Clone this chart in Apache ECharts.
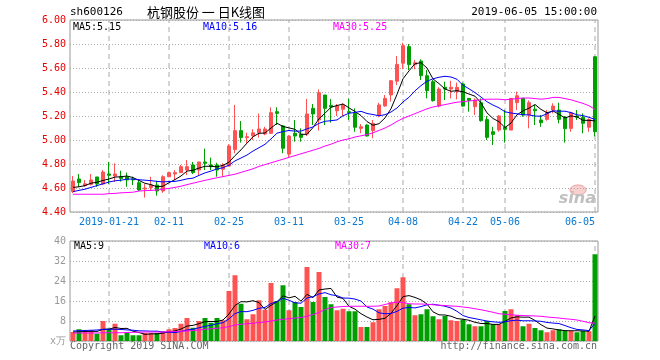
<!DOCTYPE html>
<html><head><meta charset="utf-8">
<script src="https://cdn.jsdelivr.net/npm/echarts@6/dist/echarts.min.js"></script>
<style>html,body{margin:0;padding:0;background:#fff}#c{width:660px;height:360px}</style>
</head><body><div id="c"></div>
<script>
const dates = [
'2019-01-11','2019-01-14','2019-01-15','2019-01-16','2019-01-17','2019-01-18',
'2019-01-21','2019-01-22','2019-01-23','2019-01-24','2019-01-25',
'2019-01-28','2019-01-29','2019-01-30','2019-01-31','2019-02-01',
'2019-02-11','2019-02-12','2019-02-13','2019-02-14','2019-02-15',
'2019-02-18','2019-02-19','2019-02-20','2019-02-21','2019-02-22',
'2019-02-25','2019-02-26','2019-02-27','2019-02-28','2019-03-01',
'2019-03-04','2019-03-05','2019-03-06','2019-03-07','2019-03-08',
'2019-03-11','2019-03-12','2019-03-13','2019-03-14','2019-03-15',
'2019-03-18','2019-03-19','2019-03-20','2019-03-21','2019-03-22',
'2019-03-25','2019-03-26','2019-03-27','2019-03-28','2019-03-29',
'2019-04-01','2019-04-02','2019-04-03','2019-04-04',
'2019-04-08','2019-04-09','2019-04-10','2019-04-11','2019-04-12',
'2019-04-15','2019-04-16','2019-04-17','2019-04-18','2019-04-19',
'2019-04-22','2019-04-23','2019-04-24','2019-04-25','2019-04-26',
'2019-04-29','2019-04-30',
'2019-05-06','2019-05-07','2019-05-08','2019-05-09','2019-05-10',
'2019-05-13','2019-05-14','2019-05-15','2019-05-16','2019-05-17',
'2019-05-29','2019-05-30','2019-05-31','2019-06-03','2019-06-04','2019-06-05'];
const tickDates = ['2019-01-21','2019-02-11','2019-02-25','2019-03-11','2019-03-25','2019-04-08','2019-04-22','2019-05-06','2019-06-05'];

const openP = [4.57,4.675,4.62,4.63,4.692,4.633,4.717,4.70,4.694,4.694,
 4.675,4.644,4.592,4.605,4.625,4.575,4.694,4.717,4.728,4.75,
 4.792,4.75,4.817,4.792,4.792,4.756,4.783,4.92,5.078,5.019,
 5.035,5.06,5.05,5.056,5.236,5.117,4.883,5.056,5.047,5.05,
 5.264,5.167,5.375,5.289,5.244,5.256,5.236,5.222,5.097,5.125,
 5.078,5.208,5.283,5.375,5.49,5.64,5.778,5.63,5.658,5.536,
 5.486,5.283,5.439,5.425,5.403,5.467,5.347,5.278,5.31,5.17,
 5.069,5.083,5.106,5.083,5.311,5.347,5.208,5.256,5.167,5.172,
 5.25,5.25,5.189,5.097,5.20,5.189,5.106,5.694];
const closeP = [4.658,4.645,4.635,4.667,4.633,4.733,4.706,4.717,4.68,4.667,
 4.667,4.583,4.60,4.625,4.575,4.694,4.728,4.728,4.778,4.778,
 4.728,4.817,4.806,4.778,4.75,4.792,4.95,5.078,5.02,5.028,
 5.06,5.092,5.092,5.228,5.222,4.931,5.033,5.033,5.022,5.217,
 5.217,5.394,5.264,5.275,5.283,5.292,5.228,5.106,5.11,5.033,
 5.139,5.292,5.347,5.494,5.63,5.786,5.628,5.644,5.536,5.411,
 5.328,5.425,5.425,5.439,5.439,5.283,5.33,5.333,5.161,5.022,
 5.047,5.20,5.089,5.347,5.369,5.208,5.311,5.244,5.144,5.228,
 5.283,5.172,5.094,5.228,5.189,5.139,5.172,5.069];
const lowP = [4.556,4.61,4.61,4.62,4.61,4.625,4.633,4.65,4.653,4.61,
 4.625,4.575,4.52,4.583,4.536,4.56,4.69,4.667,4.728,4.708,
 4.717,4.706,4.75,4.75,4.694,4.694,4.778,4.89,4.978,4.972,
 5.0,5.02,5.04,5.05,5.125,4.89,4.86,4.986,4.986,5.033,
 5.125,5.078,5.125,5.145,5.20,5.20,5.167,5.069,5.056,5.03,
 5.014,5.19,5.28,5.32,5.458,5.59,5.583,5.589,5.50,5.347,
 5.32,5.272,5.333,5.347,5.339,5.278,5.236,5.208,5.153,5.0,
 4.958,5.069,4.978,5.083,5.25,5.194,5.097,5.125,5.11,5.161,
 5.222,5.139,4.978,5.069,5.167,5.056,5.069,5.03];
const highP = [4.70,4.717,4.667,4.717,4.692,4.75,4.817,4.806,4.744,4.728,
 4.694,4.667,4.633,4.694,4.66,4.706,4.733,4.75,4.792,4.833,
 4.817,4.817,4.928,4.853,4.81,4.806,4.964,5.292,5.158,5.061,
 5.09,5.22,5.11,5.272,5.272,5.125,5.039,5.167,5.097,5.342,
 5.30,5.422,5.375,5.342,5.30,5.306,5.347,5.264,5.133,5.13,
 5.167,5.31,5.375,5.50,5.70,5.81,5.80,5.667,5.672,5.583,
 5.50,5.44,5.486,5.494,5.478,5.478,5.347,5.347,5.347,5.20,
 5.11,5.208,5.25,5.347,5.403,5.347,5.33,5.292,5.208,5.25,
 5.306,5.311,5.20,5.236,5.25,5.222,5.18,5.694];

const ma5 = [4.605,4.61,4.62,4.64,4.648,4.663,4.675,4.691,4.694,4.70,
 4.687,4.663,4.639,4.628,4.61,4.615,4.644,4.67,4.70,4.741,
 4.748,4.766,4.781,4.781,4.776,4.789,4.815,4.87,4.918,4.974,
 5.027,5.056,5.058,5.10,5.139,5.113,5.101,5.089,5.048,5.047,
 5.104,5.177,5.223,5.273,5.287,5.30,5.268,5.237,5.204,5.154,
 5.123,5.136,5.184,5.261,5.38,5.51,5.576,5.636,5.644,5.60,
 5.509,5.47,5.425,5.406,5.411,5.402,5.383,5.365,5.309,5.226,
 5.179,5.153,5.104,5.141,5.21,5.243,5.265,5.296,5.255,5.227,
 5.242,5.214,5.184,5.201,5.193,5.164,5.164,5.159];
const ma10 = [4.57,4.58,4.59,4.605,4.62,4.635,4.65,4.66,4.665,4.674,
 4.675,4.669,4.665,4.661,4.655,4.651,4.654,4.655,4.664,4.676,
 4.682,4.705,4.726,4.741,4.759,4.769,4.79,4.826,4.85,4.875,
 4.908,4.936,4.964,5.009,5.057,5.07,5.079,5.074,5.074,5.093,
 5.109,5.139,5.156,5.161,5.167,5.202,5.223,5.23,5.239,5.221,
 5.212,5.202,5.211,5.233,5.267,5.317,5.356,5.41,5.453,5.49,
 5.51,5.523,5.531,5.525,5.506,5.456,5.427,5.395,5.358,5.319,
 5.291,5.268,5.235,5.225,5.218,5.211,5.209,5.20,5.198,5.219,
 5.243,5.24,5.24,5.228,5.21,5.203,5.189,5.172];
const ma30 = [4.548,4.548,4.548,4.548,4.548,4.548,4.553,4.555,4.56,4.562,
 4.565,4.575,4.578,4.58,4.583,4.59,4.597,4.605,4.615,4.628,
 4.64,4.652,4.664,4.675,4.685,4.695,4.705,4.715,4.73,4.745,
 4.76,4.78,4.795,4.81,4.825,4.84,4.855,4.87,4.885,4.90,
 4.915,4.93,4.95,4.965,4.985,5.0,5.01,5.025,5.035,5.045,
 5.06,5.08,5.10,5.125,5.155,5.18,5.20,5.22,5.24,5.26,
 5.275,5.285,5.295,5.305,5.315,5.32,5.325,5.33,5.335,5.34,
 5.34,5.34,5.335,5.34,5.345,5.35,5.35,5.345,5.34,5.345,
 5.355,5.355,5.345,5.335,5.32,5.305,5.285,5.256];

const volume = [3.6,4.7,3.6,4.3,2.9,8.0,4.9,6.9,2.3,3.2,
 2.3,2.3,3.2,3.2,3.2,3.9,4.7,5.2,6.9,9.2,
 5.3,8.0,9.2,7.3,9.2,8.3,20.0,26.3,14.9,8.7,
 10.7,16.3,12.5,23.2,16.0,22.3,12.3,15.6,13.6,29.6,
 15.6,27.6,17.6,14.7,12.3,12.9,11.9,11.9,5.6,5.6,
 7.5,12.7,14.0,15.5,21.1,25.5,14.7,10.3,10.7,12.7,
 9.9,8.7,10.0,8.3,8.0,8.5,6.7,5.9,5.9,8.0,
 6.7,6.7,12.0,12.7,10.3,5.9,6.9,5.2,4.3,3.5,
 4.3,4.7,4.0,4.0,3.5,4.0,3.9,34.7];
const volMa5 = [3.6,3.7,3.8,3.9,3.82,4.7,4.74,5.4,5.0,5.06,
 3.92,3.4,2.66,2.84,2.84,3.16,3.64,4.04,4.78,5.98,
 6.26,6.92,7.72,7.8,7.8,8.4,10.8,14.22,15.74,15.64,
 16.12,15.38,12.62,14.28,15.74,18.06,17.26,17.88,15.96,18.68,
 17.34,20.4,20.8,21.02,17.56,17.02,13.88,12.74,10.92,9.58,
 8.5,8.66,9.08,11.06,14.16,17.76,18.16,17.42,16.46,14.78,
 11.66,10.46,10.4,9.92,8.98,8.7,8.3,7.48,7.0,7.0,
 6.64,6.64,7.86,9.22,9.68,9.52,9.56,8.2,6.52,5.16,
 4.84,4.4,4.16,4.1,4.1,4.04,3.88,10.02];
const volMa10 = [4.0,4.1,4.2,4.3,4.4,4.6,4.7,4.7,4.6,4.44,
 4.31,4.07,4.03,3.92,3.95,3.54,3.52,3.35,3.81,4.41,
 4.71,5.28,5.88,6.29,6.89,7.33,8.86,10.97,11.77,11.72,
 12.26,13.09,13.42,15.01,15.69,17.09,16.32,15.25,15.12,17.21,
 17.7,18.83,19.34,18.49,18.12,17.18,17.14,16.77,15.97,13.57,
 12.76,11.27,10.91,10.99,11.87,13.13,13.41,13.25,13.76,14.47,
 14.71,14.31,13.91,13.19,11.88,10.18,9.38,8.94,8.46,7.99,
 7.67,7.47,7.67,8.11,8.34,8.08,8.1,8.03,7.87,7.42,
 7.18,6.98,6.18,5.31,4.63,4.44,4.14,7.09];
const volMa30 = [3.2,3.2,3.2,3.2,3.2,3.3,3.3,3.3,3.3,3.4,
 3.5,3.5,3.6,3.6,3.6,3.6,3.7,3.8,3.9,4.0,
 4.2,4.4,4.7,4.9,5.1,5.3,5.8,6.4,6.7,6.9,
 7.1,7.4,7.6,8.0,8.4,8.7,8.9,9.2,9.4,9.9,
 10.6,11.4,12.6,13.4,13.6,13.8,13.9,13.9,13.9,13.9,
 13.9,14.0,14.6,15.2,15.6,15.4,14.9,14.8,14.8,14.7,
 14.5,14.3,14.2,14.0,13.9,13.6,13.3,12.9,12.5,12.0,
 11.5,10.9,10.7,10.5,10.3,10.2,10.1,10.0,9.9,9.6,
 9.4,9.2,8.9,8.7,8.4,7.9,7.3,7.2];

const UP = '#ff5252', DOWN = '#009f00';
const MONO = 'DejaVu Sans Mono';
const candleData = dates.map((d, i) => [openP[i], closeP[i], lowP[i], highP[i]]);
const volData = volume.map((v, i) => ({ value: v, itemStyle: { color: closeP[i] >= openP[i] ? UP : DOWN } }));
const tickIdx = tickDates.map(d => dates.indexOf(d));

function xAxisCfg(gridIndex, showLabel) {
  return {
    type: 'category', gridIndex, data: dates, boundaryGap: true,
    axisLine: { show: false }, axisTick: { show: false }, splitLine: { show: false },
    axisLabel: {
      show: showLabel, color: '#0a78d2', fontFamily: MONO, fontSize: 10, margin: 5,
      interval: (idx) => tickIdx.includes(idx),
      formatter: v => v === tickDates[0] ? v : v.slice(5),
      alignMaxLabel: 'right'
    }
  };
}

// vertical dashed guides: one two-point line series per labelled date, in each pane
const guideSeries = [];
[[0, 4.4, 6.0], [1, 0, 40]].forEach(([g, lo, hi]) => {
  tickDates.forEach(d => {
    guideSeries.push({
      type: 'line', xAxisIndex: g, yAxisIndex: g, silent: true, z: 1,
      symbol: 'none', showSymbol: false, animation: false,
      data: [[d, lo], [d, hi]],
      lineStyle: { color: '#aaa', width: 1, type: [5, 4] }
    });
  });
});

const textEl = (x, y, text, fill, opts = {}) => ({
  type: 'text', x, y, silent: true,
  style: Object.assign({ text, fill, font: '10px ' + MONO, textAlign: 'left', textVerticalAlign: 'middle' }, opts)
});

const chart = echarts.init(document.getElementById('c'), null, { renderer: 'canvas' });
chart.setOption({
  animation: false,
  backgroundColor: '#fff',
  grid: [
    { left: 70, top: 20, width: 528, height: 192, show: true, borderColor: '#999', borderWidth: 1, backgroundColor: 'transparent' },
    { left: 70, top: 241, width: 528, height: 100, show: true, borderColor: '#999', borderWidth: 1, backgroundColor: 'transparent' }
  ],
  xAxis: [xAxisCfg(0, true), xAxisCfg(1, false)],
  yAxis: [
    { type: 'value', gridIndex: 0, min: 4.4, max: 6.0, interval: 0.2,
      axisLine: { show: false }, axisTick: { show: false },
      axisLabel: { color: '#e60000', fontFamily: MONO, fontSize: 10, margin: 4, formatter: v => v.toFixed(2) },
      splitLine: { lineStyle: { color: '#aaa', type: [1, 2] } } },
    { type: 'value', gridIndex: 1, min: 0, max: 40, interval: 8,
      axisLine: { show: false }, axisTick: { show: false },
      axisLabel: { color: '#999', fontFamily: MONO, fontSize: 10, margin: 4, formatter: v => v === 0 ? 'x万' : String(v) },
      splitLine: { lineStyle: { color: '#aaa', type: [1, 2] } } }
  ],
  series: guideSeries.concat([
    { type: 'candlestick', xAxisIndex: 0, yAxisIndex: 0, data: candleData, barWidth: 4,
      itemStyle: { color: UP, color0: DOWN, borderColor: UP, borderColor0: DOWN, borderWidth: 1 }, z: 3 },
    { type: 'line', xAxisIndex: 0, yAxisIndex: 0, data: ma5, showSymbol: false, symbol: 'none', lineStyle: { color: '#000', width: 1 }, z: 4 },
    { type: 'line', xAxisIndex: 0, yAxisIndex: 0, data: ma10, showSymbol: false, symbol: 'none', lineStyle: { color: '#0000ff', width: 1 }, z: 4 },
    { type: 'line', xAxisIndex: 0, yAxisIndex: 0, data: ma30, showSymbol: false, symbol: 'none', lineStyle: { color: '#ff00ff', width: 1 }, z: 4 },
    { type: 'bar', xAxisIndex: 1, yAxisIndex: 1, data: volData, barWidth: 5, z: 3 },
    { type: 'line', xAxisIndex: 1, yAxisIndex: 1, data: volMa5, showSymbol: false, symbol: 'none', lineStyle: { color: '#000', width: 1 }, z: 4 },
    { type: 'line', xAxisIndex: 1, yAxisIndex: 1, data: volMa10, showSymbol: false, symbol: 'none', lineStyle: { color: '#0000ff', width: 1 }, z: 4 },
    { type: 'line', xAxisIndex: 1, yAxisIndex: 1, data: volMa30, showSymbol: false, symbol: 'none', lineStyle: { color: '#ff00ff', width: 1 }, z: 4 }
  ]),
  graphic: [
    textEl(70, 12, 'sh600126', '#000', { font: '11px ' + MONO }),
    textEl(206, 12, '杭钢股份 一 日K线图', '#000', { font: '13px "Noto Sans CJK SC"', textAlign: 'center' }),
    textEl(597, 12, '2019-06-05 15:00:00', '#000', { font: '11px ' + MONO, textAlign: 'right' }),
    textEl(73, 27, 'MA5:5.15', '#000'),
    textEl(203, 27, 'MA10:5.16', '#0000ff'),
    textEl(333, 27, 'MA30:5.25', '#ff00ff'),
    textEl(74, 246, 'MA5:9', '#000'),
    textEl(204, 246, 'MA10:6', '#0000ff'),
    textEl(335, 246, 'MA30:7', '#ff00ff'),
    textEl(70, 346, 'Copyright 2019 SINA.COM', '#666'),
    textEl(597, 346, 'http://finance.sina.com.cn', '#666', { textAlign: 'right' }),
    { type: 'ellipse', shape: { cx: 578, cy: 190, rx: 8, ry: 5 }, silent: true,
      style: { fill: '#f8d0d0', stroke: '#f0a0a0', lineWidth: 1 } },
    textEl(596, 199, 'sina', '#c0c0c0', { font: 'italic bold 16px "DejaVu Sans"', textAlign: 'right' })
  ]
});
</script></body></html>
